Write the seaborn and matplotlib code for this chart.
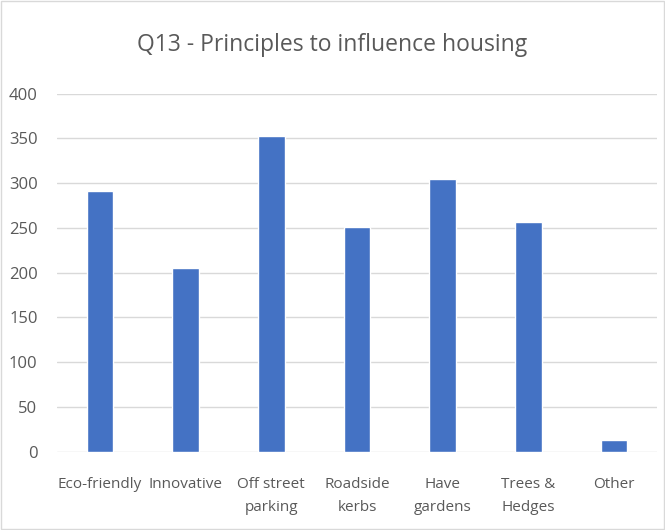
import matplotlib
matplotlib.use('Agg')
import matplotlib.pyplot as plt
import seaborn as sns
import pandas as pd
from matplotlib.patches import Rectangle

# Dados
categorias = ['Eco-friendly', 'Innovative', 'Off street\nparking', 'Roadside\nkerbs',
              'Have\ngardens', 'Trees &\nHedges', 'Other']
respostas = [291, 205, 353, 251, 305, 257, 13]
ticks_y = [0, 50, 100, 150, 200, 250, 300, 350, 400]

df = pd.DataFrame({'categoria': categorias, 'respostas': respostas})

sns.set_style('white')
plt.rcParams['font.family'] = ['Open Sans', 'DejaVu Sans']

fig = plt.figure(figsize=(6.65, 5.3), dpi=100)
ax = fig.add_axes([0.0857, 0.1477, 0.9023, 0.6755])

sns.barplot(data=df, x='categoria', y='respostas', color='#4472C4', saturation=1,
            width=0.31, ax=ax)

ax.set_ylim(0, 400)
ax.set_yticks(ticks_y)
ax.yaxis.grid(True, color='#d9d9d9', linewidth=1)
ax.set_axisbelow(True)
for s in ax.spines.values():
    s.set_visible(False)
ax.set_xlabel('')
ax.set_ylabel('')
ax.tick_params(axis='both', length=0, colors='#595959')
ax.tick_params(axis='y', pad=14, labelsize=12)
ax.tick_params(axis='x', pad=18, labelsize=11)
for lbl in ax.get_xticklabels():
    lbl.set_linespacing(1.75)

fig.text(0.5, 0.915, 'Q13 - Principles to influence housing', ha='center', va='center',
         fontsize=16.5, color='#595959')

# moldura do gráfico
fig.patches.append(Rectangle((0.002, 0.002), 0.996, 0.996, transform=fig.transFigure,
                             fill=False, edgecolor='#d9d9d9', linewidth=1))

fig.savefig('out.png', dpi=100)
